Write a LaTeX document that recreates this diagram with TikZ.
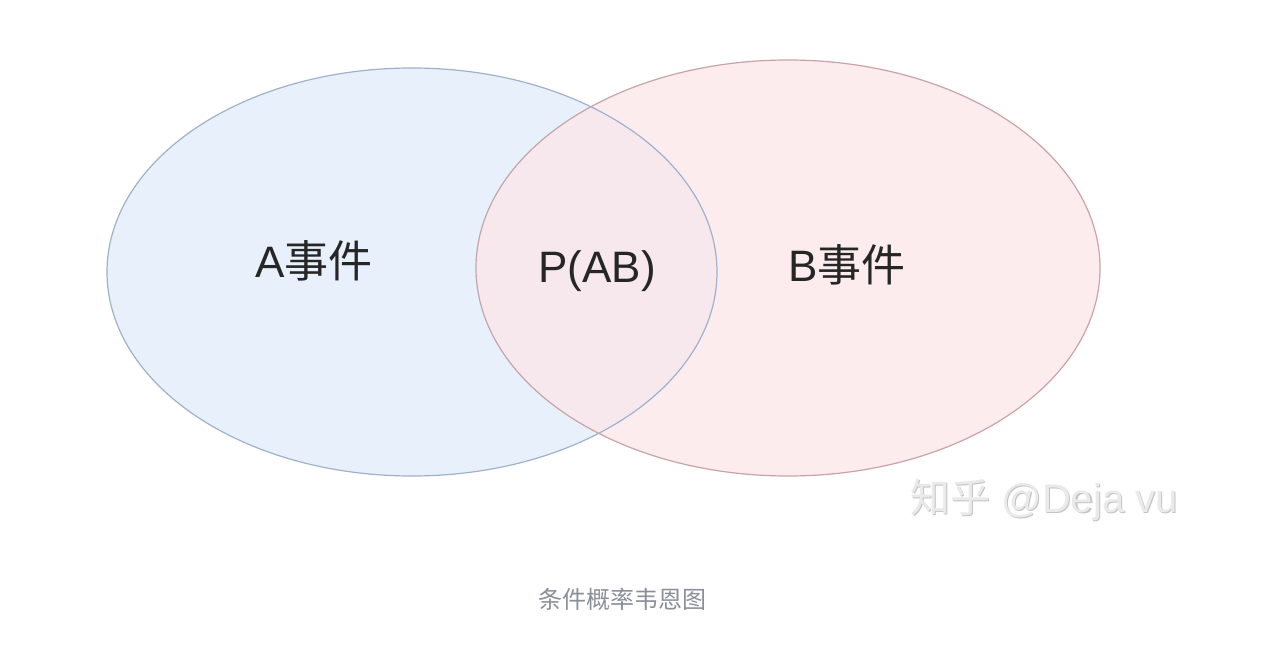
\documentclass[tikz,border=0pt]{standalone}
\usepackage{fontspec}
\setmainfont{Liberation Sans}
\newfontfamily\cjk{Noto Sans CJK SC}
\usetikzlibrary{shapes.geometric}
\definecolor{afill}{HTML}{E8F0FB}
\definecolor{astroke}{HTML}{9FB1CC}
\definecolor{bfill}{HTML}{FBE6E9}
\definecolor{bstroke}{HTML}{C9A3A8}
\definecolor{captext}{HTML}{8A8F99}
\definecolor{wmark}{HTML}{EAEAEA}
\definecolor{wshadow}{HTML}{C4C4C4}
\tikzset{
  label/.style={font=\fontsize{44}{46}\selectfont, text=black!85, anchor=base},
  wmstyle/.style={font=\fontsize{40}{42}\selectfont, anchor=base},
}
\begin{document}
\begin{tikzpicture}[x=1pt,y=-1pt]
\useasboundingbox[fill=white] (0,0) rectangle (1280,663);
% fills
\fill[afill] (412,272) ellipse [x radius=305, y radius=204];
\fill[bfill, fill opacity=0.75] (788,268) ellipse [x radius=312, y radius=208];
% outlines
\draw[astroke, line width=1.2pt] (412,272) ellipse [x radius=305, y radius=204];
\draw[bstroke, line width=1.2pt] (788,268) ellipse [x radius=312, y radius=208];
% labels
\node[label] (la) at (314,277) {A{\cjk 事件}};
\node[label] (lab) at (597,282) {P(AB)};
\node[label] (lb) at (847,281) {B{\cjk 事件}};
% watermark
\node[wmstyle, text=wshadow] (wms) at (1045.5,513.5) {{\cjk 知乎} @Deja vu};
\node[wmstyle, text=wmark] (wm) at (1044,512) {{\cjk 知乎} @Deja vu};
% caption
\node[font=\cjk\fontsize{24}{26}\selectfont, text=captext] (cap) at (622,599) {条件概率韦恩图};
\end{tikzpicture}
\end{document}
